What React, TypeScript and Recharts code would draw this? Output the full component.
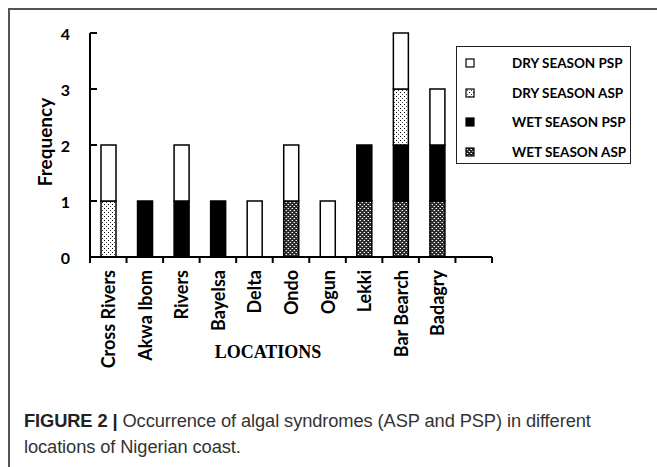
import React from 'react';
import { BarChart, Bar, XAxis, YAxis } from 'recharts';

const locations = ['Cross Rivers', 'Akwa Ibom', 'Rivers', 'Bayelsa', 'Delta', 'Ondo', 'Ogun', 'Lekki', 'Bar Bearch', 'Badagry', ''];
const wetASP = [0, 0, 0, 0, 0, 1, 0, 1, 1, 1, 0];
const wetPSP = [0, 1, 1, 1, 0, 0, 0, 1, 1, 1, 0];
const dryASP = [1, 0, 0, 0, 0, 0, 0, 0, 1, 0, 0];
const dryPSP = [1, 0, 1, 0, 1, 1, 1, 0, 1, 1, 0];
const yTicks = [0, 1, 2, 3, 4];

const data = locations.map((loc, i) => ({
  loc,
  wetASP: wetASP[i],
  wetPSP: wetPSP[i],
  dryASP: dryASP[i],
  dryPSP: dryPSP[i],
}));

const series = [
  { key: 'wetASP', name: 'WET SEASON ASP', fill: 'url(#wetAsp)' },
  { key: 'wetPSP', name: 'WET SEASON PSP', fill: '#000' },
  { key: 'dryASP', name: 'DRY SEASON ASP', fill: 'url(#dryAsp)' },
  { key: 'dryPSP', name: 'DRY SEASON PSP', fill: '#fff' },
];

const W = 657;
const H = 467;
const M = { top: 33, right: 165, bottom: 90, left: 40 };
const YW = 50;
const XH = 120;
const PLOT_W = W - M.left - YW - M.right;
const HALF_BAND = PLOT_W / locations.length / 2;
const FONT = 'Lato, "Open Sans", sans-serif';

const YTick = (props: any) => {
  const { x, y, payload } = props;
  return (
    <g>
      <line x1={x} y1={y} x2={x + 7} y2={y} stroke="#000" strokeWidth={2} />
      <text x={x - 20} y={y} textAnchor="end" dominantBaseline="central" fontFamily={FONT} fontWeight={700} fontSize={16} fill="#000">
        {payload.value}
      </text>
    </g>
  );
};

const XTick = (props: any) => {
  const { x, y, payload, index } = props;
  const last = index === locations.length - 1;
  return (
    <g>
      <line x1={x - HALF_BAND} y1={y} x2={x - HALF_BAND} y2={y + 6} stroke="#000" strokeWidth={2} />
      {last && <line x1={x + HALF_BAND} y1={y} x2={x + HALF_BAND} y2={y + 6} stroke="#000" strokeWidth={2} />}
      {payload.value && (
        <text
          transform={`translate(${x},${y + 13}) rotate(-90)`}
          textAnchor="end"
          dominantBaseline="central"
          fontFamily={FONT}
          fontWeight={700}
          fontSize={18}
          fill="#000"
        >
          {payload.value}
        </text>
      )}
    </g>
  );
};

const LegendBox = () => (
  <div
    style={{
      position: 'absolute',
      left: 456,
      top: 46,
      width: 173,
      height: 116,
      border: '1.5px solid #222',
      background: '#fff',
      fontFamily: FONT,
    }}
  >
    {[...series].reverse().map((s, i) => (
      <div key={s.key} style={{ position: 'absolute', left: 0, top: 6 + i * 29.5, height: 20, width: '100%' }}>
        <svg width={10} height={10} style={{ position: 'absolute', left: 8, top: 5 }}>
          <rect x={1} y={1} width={8} height={8} fill={s.fill} stroke="#000" strokeWidth={1.2} />
        </svg>
        <span
          style={{
            position: 'absolute',
            left: 55,
            top: 0,
            lineHeight: '20px',
            fontSize: 13.5,
            fontWeight: 700,
            color: '#000',
            whiteSpace: 'nowrap',
          }}
        >
          {s.name}
        </span>
      </div>
    ))}
  </div>
);

const PatternDefs = () => (
  <svg width={0} height={0} style={{ position: 'absolute' }}>
    <defs>
      <pattern id="dryAsp" width="4" height="4" patternUnits="userSpaceOnUse">
        <rect width="4" height="4" fill="#fff" />
        <rect x="0" y="0" width="1" height="1" fill="#000" />
        <rect x="2" y="2" width="1" height="1" fill="#444" />
      </pattern>
      <pattern id="wetAsp" width="4" height="4" patternUnits="userSpaceOnUse">
        <rect width="4" height="4" fill="#2a2a2a" />
        <rect x="0" y="0" width="1" height="1" fill="#fff" />
        <rect x="2" y="2" width="1" height="1" fill="#fff" />
        <rect x="1" y="2" width="1" height="1" fill="#888" />
        <rect x="3" y="0" width="1" height="1" fill="#888" />
      </pattern>
    </defs>
  </svg>
);

export default function App() {
  return (
    <div style={{ position: 'absolute', left: 0, top: 0, width: W, height: H, background: '#fff', overflow: 'hidden' }}>
      <PatternDefs />
      <div style={{ position: 'absolute', left: 8, top: 8, width: W - 8, height: 1.5, background: '#555' }} />
      <div style={{ position: 'absolute', left: 8, top: 8, width: 1.5, height: H - 8, background: '#555' }} />
      <BarChart width={W} height={H} data={data} margin={M} barSize={15}>
        <XAxis
          dataKey="loc"
          type="category"
          height={XH}
          interval={0}
          axisLine={{ stroke: '#000', strokeWidth: 2 }}
          tickLine={false}
          tickSize={0}
          tickMargin={0}
          tick={<XTick />}
        />
        <YAxis
          width={YW}
          domain={[0, 4]}
          ticks={yTicks}
          interval={0}
          axisLine={{ stroke: '#000', strokeWidth: 2 }}
          tickLine={false}
          tickSize={0}
          tickMargin={0}
          tick={<YTick />}
        />
        {series.map((s) => (
          <Bar
            key={s.key}
            dataKey={s.key}
            name={s.name}
            stackId="a"
            fill={s.fill}
            stroke="#000"
            strokeWidth={1.5}
            isAnimationActive={false}
          />
        ))}
      </BarChart>
      <LegendBox />
      <div
        style={{
          position: 'absolute',
          left: 44,
          top: 142,
          transform: 'translate(-50%, -50%) rotate(-90deg)',
          fontFamily: FONT,
          fontWeight: 700,
          fontSize: 19,
          whiteSpace: 'nowrap',
        }}
      >
        Frequency
      </div>
      <div
        style={{
          position: 'absolute',
          left: 268,
          top: 352,
          transform: 'translate(-50%, -50%)',
          fontFamily: '"Liberation Serif", "Times New Roman", serif',
          fontWeight: 700,
          fontSize: 18,
          whiteSpace: 'nowrap',
        }}
      >
        LOCATIONS
      </div>
      <div
        style={{
          position: 'absolute',
          left: 24,
          top: 408,
          width: 630,
          fontFamily: '"Liberation Sans", Arial, sans-serif',
          fontSize: 18.3,
          lineHeight: '26px',
          color: '#333',
          letterSpacing: -0.1,
        }}
      >
        <span style={{ fontWeight: 700, color: '#222' }}>FIGURE 2 |</span> Occurrence of algal syndromes (ASP and PSP) in different
        <br />
        locations of Nigerian coast.
      </div>
    </div>
  );
}
